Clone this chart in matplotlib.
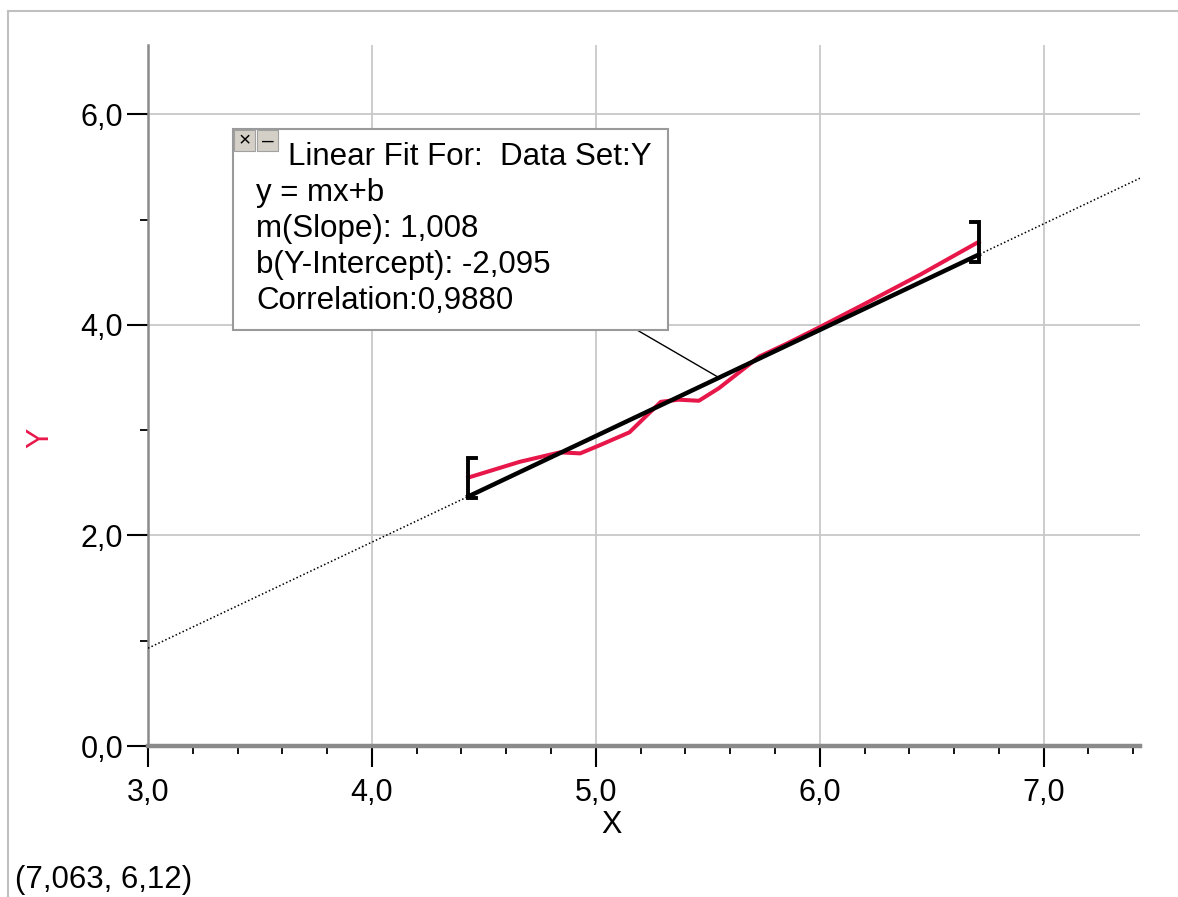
import numpy as np
import matplotlib.pyplot as plt
from matplotlib.patches import Rectangle
from matplotlib.lines import Line2D
from matplotlib.ticker import MultipleLocator, FuncFormatter

plt.rcParams['font.family'] = ['Liberation Sans', 'DejaVu Sans']

# data set Y (red trace)
x_data = [4.43, 4.66, 4.84, 4.93, 5.02, 5.15, 5.29, 5.37, 5.46, 5.55, 5.64, 5.73,
          5.85, 6.00, 6.20, 6.45, 6.71]
y_data = [2.55, 2.70, 2.79, 2.78, 2.86, 2.98, 3.27, 3.29, 3.28, 3.40, 3.55, 3.70,
          3.82, 3.98, 4.20, 4.48, 4.79]

# linear fit result shown in the box
slope = 1.008
intercept = -2.095
correlation = 0.9880
fit_range = [4.43, 6.71]
cursor_text = '(7,063, 6,12)'

fit_lines = ['Linear Fit For:  Data Set:Y', 'y = mx+b',
             'm(Slope): 1,008', 'b(Y-Intercept): -2,095', 'Correlation:0,9880']

W, H = 1178, 897
fig = plt.figure(figsize=(W / 100, H / 100), dpi=100)
ax = fig.add_axes([148 / W, 1 - 746 / H, 992 / W, 701 / H])
ax.set_xlim(3.0, 7.43)
ax.set_ylim(0.0, 6.66)

def fit(x):
    return slope * np.asarray(x) + intercept

# dotted extension of the fit over the whole axis
xs = np.array(ax.get_xlim())
ax.plot(xs, fit(xs), color='black', lw=1.1, ls=(0, (1, 1.5)), zorder=3)

# red data trace
ax.plot(x_data, y_data, color='#e8174a', lw=2.9, zorder=4)

# solid fit over the selected range
ax.plot(fit_range, fit(fit_range), color='black', lw=3.2, zorder=5)

# range brackets
h = 0.19
dx = 0.035
for xb, yb, d in [(fit_range[0], y_data[0], 1), (fit_range[1], y_data[-1], -1)]:
    ax.plot([xb + d * dx, xb, xb, xb + d * dx], [yb + h, yb + h, yb - h, yb - h],
            color='black', lw=2.8, zorder=6, solid_joinstyle='miter')

# grid, spines, ticks
ax.grid(True, which='major', color='#c8c8c8', lw=1.3)
ax.set_axisbelow(True)
for s in ['top', 'right']:
    ax.spines[s].set_visible(False)
ax.spines['left'].set_color('#8a8a8a')
ax.spines['left'].set_linewidth(1.8)
ax.spines['bottom'].set_color('#8a8a8a')
ax.spines['bottom'].set_linewidth(3.2)

ax.xaxis.set_major_locator(MultipleLocator(1.0))
ax.xaxis.set_minor_locator(MultipleLocator(0.2))
ax.yaxis.set_major_locator(MultipleLocator(2.0))
ax.yaxis.set_minor_locator(MultipleLocator(1.0))
comma = FuncFormatter(lambda v, p: f'{v:.1f}'.replace('.', ','))
ax.xaxis.set_major_formatter(comma)
ax.yaxis.set_major_formatter(comma)
ax.tick_params(which='major', length=15, width=1.5, color='black',
               labelsize=22, pad=3)
ax.tick_params(axis='x', which='major', pad=8)
ax.tick_params(which='minor', length=6, width=1.3, color='black')

# axis names sit where the program puts them, not centred on the axis
fig.text(612 / W, 1 - 825 / H, 'X', fontsize=22, ha='center', va='center')
fig.text(40 / W, 1 - 438 / H, 'Y', fontsize=22, color='#e8174a', rotation=90,
         ha='center', va='center')

# fit info box
bx0, by0, bx1, by1 = 233 / W, 1 - 330 / H, 668 / W, 1 - 129 / H
fig.add_artist(Rectangle((bx0, by0), bx1 - bx0, by1 - by0, transform=fig.transFigure,
                         facecolor='white', edgecolor='#9a9a9a', lw=1.5, zorder=10))
for i, sym in enumerate(['×', '–']):
    x0 = (234 + i * 23) / W
    fig.add_artist(Rectangle((x0, 1 - 151 / H), 21 / W, 21 / H,
                             transform=fig.transFigure, facecolor='#d4d0c8',
                             edgecolor='#a0a0a0', lw=0.8, zorder=11))
    fig.text(x0 + 10.5 / W, 1 - 141 / H, sym, fontsize=15, ha='center',
             va='center', zorder=12)

fig.text(288 / W, 1 - 157 / H, fit_lines[0], fontsize=22.5, va='center', zorder=12)
for i, line in enumerate(fit_lines[1:]):
    fig.text(256 / W, 1 - (193 + 36 * i) / H, line, fontsize=22.5,
             va='center', zorder=12)

# leader from box to fit line
ax.annotate('', xy=(5.55, float(fit(5.55))), xytext=(637 / W, by0),
            textcoords='figure fraction',
            arrowprops=dict(arrowstyle='-', color='black', lw=1.0,
                            shrinkA=0, shrinkB=0))

# window border and cursor readout
fig.add_artist(Line2D([8 / W, 1], [1 - 11 / H] * 2, transform=fig.transFigure,
                      color='#c0c0c0', lw=1.5))
fig.add_artist(Line2D([8 / W] * 2, [0, 1 - 11 / H], transform=fig.transFigure,
                      color='#c0c0c0', lw=1.5))
fig.text(15 / W, 1 - 880 / H, cursor_text, fontsize=22.5, va='center')

fig.savefig('out.png', dpi=100, facecolor='white')
